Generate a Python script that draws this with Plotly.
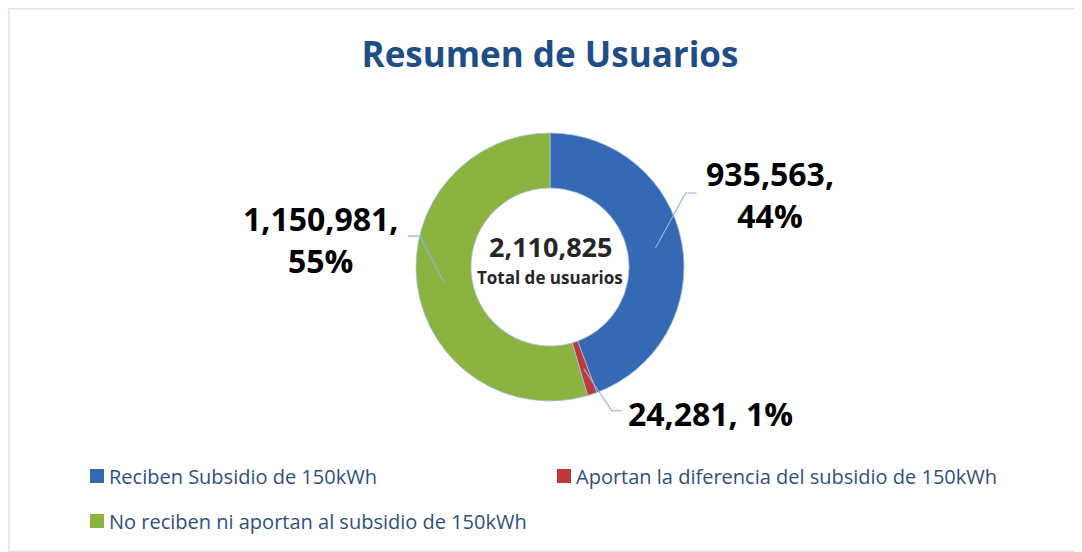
import math
import plotly.graph_objects as go

# ---- data ----
categories = [
    "Reciben Subsidio de 150kWh",
    "Aportan la diferencia del subsidio de 150kWh",
    "No reciben ni aportan al subsidio de 150kWh",
]
values = [935563, 24281, 1150981]
colors = ["#3569b4", "#c0393a", "#8cb23f"]
title_text = "Resumen de Usuarios"
center_label = "Total de usuarios"

OFF = 8                      # browser body margin
W, H = 1082 - OFF, 552 - OFF  # figure size
CX, CY, R = 550, 267, 134     # page-pixel geometry of the donut

total = sum(values)


def px(x):
    return (x - OFF) / W


def py(y):
    return 1 - (y - OFF) / H


fig = go.Figure()
fig.add_trace(go.Pie(
    labels=categories,
    values=values,
    hole=0.59,
    sort=False,
    direction="clockwise",
    rotation=0,
    marker=dict(colors=colors, line=dict(color="#9dc3e6", width=0.8)),
    textinfo="none",
    hoverinfo="label+value+percent",
    showlegend=False,
    domain=dict(x=[px(CX - R), px(CX + R)], y=[py(CY + R), py(CY - R)]),
))

shapes = []
annotations = []

# chart border
shapes.append(dict(type="rect", xref="paper", yref="paper", x0=0.001, x1=0.999, y0=0.001, y1=0.999,
                   line=dict(color="#dce6f2", width=1.5), fillcolor="rgba(0,0,0,0)"))

# data labels with leader lines computed from slice angles
label_font = dict(family="Open Sans, DejaVu Sans", size=32, color="#000000")
label_fmt = [
    lambda v, p: f"<b>{v:,},<br>{p}%</b>",
    lambda v, p: f"<b>{v:,}, {p}%</b>",
    lambda v, p: f"<b>{v:,},<br>{p}%</b>",
]
# elbow offsets (styling): (dx to elbow, dy to elbow, horizontal tail, text x offset, anchor, text y offset)
leader_style = [
    (30, -55, 11, 8, "left", 2),
    (28, 42, 10, 4, "left", 3),
    (-24, -46, -12, -8, "right", 3),
]
cum = 0
for i, v in enumerate(values):
    mid = (cum + v / 2) / total
    cum += v
    ang = 2 * math.pi * mid
    r0 = R * 0.8
    x0 = CX + r0 * math.sin(ang)
    y0 = CY - r0 * math.cos(ang)
    dx, dy, tail, toff, anchor, tyoff = leader_style[i]
    x1, y1 = x0 + dx, y0 + dy
    x2 = x1 + tail
    shapes.append(dict(type="path", xref="paper", yref="paper",
                       path=f"M {px(x0)},{py(y0)} L {px(x1)},{py(y1)} L {px(x2)},{py(y1)}",
                       line=dict(color="#8fb4e3", width=1.2)))
    pct = round(100 * v / total)
    annotations.append(dict(
        x=px(x2 + toff), y=py(y1 + tyoff), xref="paper", yref="paper",
        text=label_fmt[i](v, pct), showarrow=False, xanchor=anchor, yanchor="middle",
        align="center", font=label_font,
    ))

# center text
annotations.append(dict(x=px(CX), y=py(CY - 21), xref="paper", yref="paper",
                        text=f"<b>{total:,}</b>", showarrow=False,
                        font=dict(family="Open Sans, DejaVu Sans", size=27, color="#262626")))
annotations.append(dict(x=px(CX), y=py(CY + 10), xref="paper", yref="paper",
                        text=f"<b>{center_label}</b>", showarrow=False,
                        font=dict(family="Open Sans, DejaVu Sans", size=17, color="#262626")))

# custom legend
legend_pos = [(90, 476), (557, 476), (90, 521)]
for (lx, ly), name, col in zip(legend_pos, categories, colors):
    shapes.append(dict(type="rect", xref="paper", yref="paper",
                       x0=px(lx), x1=px(lx + 14), y0=py(ly + 7), y1=py(ly - 7),
                       fillcolor=col, line=dict(color=col, width=0)))
    annotations.append(dict(x=px(lx + 17), y=py(ly), xref="paper", yref="paper",
                            text=name, showarrow=False, xanchor="left", yanchor="middle",
                            font=dict(family="Open Sans, DejaVu Sans", size=20, color="#2f4f7f")))

fig.update_layout(
    width=W, height=H,
    margin=dict(l=0, r=0, t=0, b=0),
    paper_bgcolor="white",
    title=dict(text=f"<b>{title_text}</b>", x=px(550), xanchor="center", y=py(55), yanchor="middle",
               font=dict(family="Open Sans, DejaVu Sans", size=35, color="#1f4e86")),
    shapes=shapes,
    annotations=annotations,
)

fig.write_html("out.html")
